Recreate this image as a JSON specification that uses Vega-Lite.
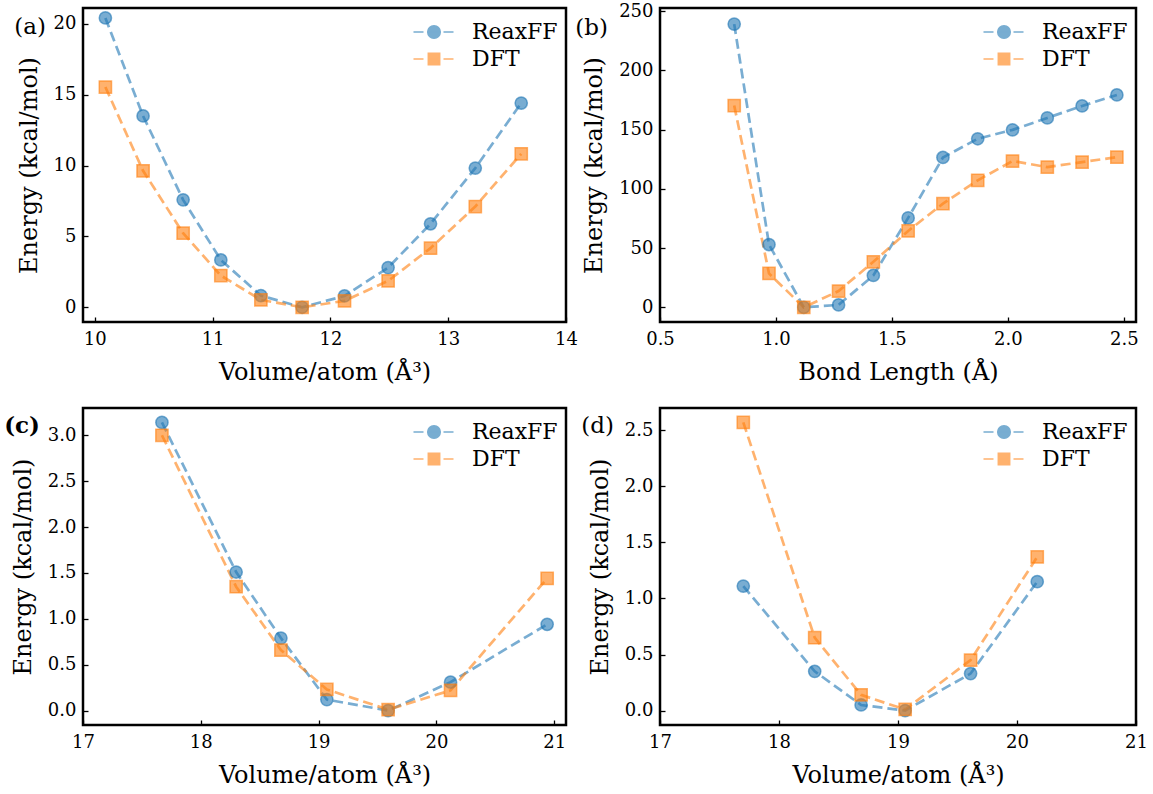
{
 "$schema": "https://vega.github.io/schema/vega-lite/v6.json",
 "padding": {"left": 2, "top": 0, "right": 4, "bottom": 4},
 "background": "white",
 "datasets": {
  "pts": [
   {"p":"a","s":"ReaxFF","x":10.09,"y":20.42},{"p":"a","s":"ReaxFF","x":10.41,"y":13.5},{"p":"a","s":"ReaxFF","x":10.75,"y":7.58},{"p":"a","s":"ReaxFF","x":11.07,"y":3.34},{"p":"a","s":"ReaxFF","x":11.41,"y":0.82},{"p":"a","s":"ReaxFF","x":11.76,"y":0.0},{"p":"a","s":"ReaxFF","x":12.12,"y":0.8},{"p":"a","s":"ReaxFF","x":12.49,"y":2.8},{"p":"a","s":"ReaxFF","x":12.85,"y":5.89},{"p":"a","s":"ReaxFF","x":13.23,"y":9.82},{"p":"a","s":"ReaxFF","x":13.62,"y":14.41},
   {"p":"a","s":"DFT","x":10.09,"y":15.54},{"p":"a","s":"DFT","x":10.41,"y":9.63},{"p":"a","s":"DFT","x":10.75,"y":5.23},{"p":"a","s":"DFT","x":11.07,"y":2.24},{"p":"a","s":"DFT","x":11.41,"y":0.52},{"p":"a","s":"DFT","x":11.76,"y":0.0},{"p":"a","s":"DFT","x":12.12,"y":0.45},{"p":"a","s":"DFT","x":12.49,"y":1.86},{"p":"a","s":"DFT","x":12.85,"y":4.17},{"p":"a","s":"DFT","x":13.23,"y":7.11},{"p":"a","s":"DFT","x":13.62,"y":10.83},
   {"p":"b","s":"ReaxFF","x":0.82,"y":239.1},{"p":"b","s":"ReaxFF","x":0.97,"y":53.0},{"p":"b","s":"ReaxFF","x":1.12,"y":0.0},{"p":"b","s":"ReaxFF","x":1.27,"y":2.0},{"p":"b","s":"ReaxFF","x":1.42,"y":26.9},{"p":"b","s":"ReaxFF","x":1.57,"y":75.5},{"p":"b","s":"ReaxFF","x":1.72,"y":126.5},{"p":"b","s":"ReaxFF","x":1.87,"y":142.3},{"p":"b","s":"ReaxFF","x":2.02,"y":149.8},{"p":"b","s":"ReaxFF","x":2.17,"y":159.9},{"p":"b","s":"ReaxFF","x":2.32,"y":170.0},{"p":"b","s":"ReaxFF","x":2.47,"y":179.3},
   {"p":"b","s":"DFT","x":0.82,"y":170.3},{"p":"b","s":"DFT","x":0.97,"y":28.6},{"p":"b","s":"DFT","x":1.12,"y":0.0},{"p":"b","s":"DFT","x":1.27,"y":13.7},{"p":"b","s":"DFT","x":1.42,"y":38.4},{"p":"b","s":"DFT","x":1.57,"y":64.5},{"p":"b","s":"DFT","x":1.72,"y":87.5},{"p":"b","s":"DFT","x":1.87,"y":107.2},{"p":"b","s":"DFT","x":2.02,"y":123.5},{"p":"b","s":"DFT","x":2.17,"y":118.4},{"p":"b","s":"DFT","x":2.32,"y":122.6},{"p":"b","s":"DFT","x":2.47,"y":126.8},
   {"p":"c","s":"ReaxFF","x":17.67,"y":3.14},{"p":"c","s":"ReaxFF","x":18.30,"y":1.51},{"p":"c","s":"ReaxFF","x":18.68,"y":0.79},{"p":"c","s":"ReaxFF","x":19.07,"y":0.12},{"p":"c","s":"ReaxFF","x":19.59,"y":0.0},{"p":"c","s":"ReaxFF","x":20.12,"y":0.31},{"p":"c","s":"ReaxFF","x":20.94,"y":0.94},
   {"p":"c","s":"DFT","x":17.67,"y":3.0},{"p":"c","s":"DFT","x":18.30,"y":1.35},{"p":"c","s":"DFT","x":18.68,"y":0.66},{"p":"c","s":"DFT","x":19.07,"y":0.23},{"p":"c","s":"DFT","x":19.59,"y":0.01},{"p":"c","s":"DFT","x":20.12,"y":0.22},{"p":"c","s":"DFT","x":20.94,"y":1.44},
   {"p":"d","s":"ReaxFF","x":17.70,"y":1.11},{"p":"d","s":"ReaxFF","x":18.30,"y":0.35},{"p":"d","s":"ReaxFF","x":18.69,"y":0.05},{"p":"d","s":"ReaxFF","x":19.06,"y":0.0},{"p":"d","s":"ReaxFF","x":19.61,"y":0.33},{"p":"d","s":"ReaxFF","x":20.17,"y":1.15},
   {"p":"d","s":"DFT","x":17.70,"y":2.57},{"p":"d","s":"DFT","x":18.30,"y":0.65},{"p":"d","s":"DFT","x":18.69,"y":0.14},{"p":"d","s":"DFT","x":19.06,"y":0.01},{"p":"d","s":"DFT","x":19.61,"y":0.45},{"p":"d","s":"DFT","x":20.17,"y":1.37}
  ]
 },
 "data": {"name": "pts"},
 "spacing": -5,
 "align": "none",
 "resolve": {"scale": {"x": "independent", "y": "independent", "color": "independent"}, "axis": {"x": "independent", "y": "independent"}, "legend": {"color": "independent"}},
 "hconcat": [
  {
   "spacing": 20,
   "resolve": {"scale": {"x": "independent", "y": "independent", "color": "independent"}, "axis": {"x": "independent", "y": "independent"}, "legend": {"color": "independent"}},
   "vconcat": [
    {
     "width": 483, "height": 314,
     "layer": [
      {"transform": [{"filter": "datum.p === 'a'"}],
       "mark": {"type": "line", "strokeDash": [10, 5], "strokeWidth": 2.7, "opacity": 0.6},
       "encoding": {
        "x": {"field": "x", "type": "quantitative", "scale": {"domain": [9.9, 14.0], "nice": false, "zero": false}, "axis": {"values": [10, 11, 12, 13, 14], "format": "d", "title": "Volume/atom (Å³)"}},
        "y": {"field": "y", "type": "quantitative", "scale": {"domain": [-1.04, 21.12], "nice": false, "zero": false}, "axis": {"values": [0, 5, 10, 15, 20], "format": "d", "title": "Energy (kcal/mol)"}},
        "color": {"field": "s", "type": "nominal", "scale": {"domain": ["ReaxFF", "DFT"], "range": ["#1f77b4", "#ff7f0e"]},
         "legend": {"orient": "top-right", "offset": 0, "padding": 8, "title": null, "labelFont": "DejaVu Serif", "labelFontSize": 22, "labelColor": "black", "symbolSize": 900, "labelOffset": 22, "rowPadding": 0,
          "symbolType": {"expr": "datum.value === 'ReaxFF' ? 'M-1.367,0H-0.7M-0.367,0H0.3M0.633,0H1.3M-0.42,0A0.42,0.42,0,1,0,0.42,0A0.42,0.42,0,1,0,-0.42,0Z' : 'M-1.367,0H-0.7M-0.367,0H0.3M0.633,0H1.3M-0.38,-0.38H0.38V0.38H-0.38Z'"},
          "encode": {"symbols": {
           "fillOpacity": {"value": 0.6}, "strokeOpacity": {"value": 0.6}, "opacity": {"value": 1}, "strokeWidth": {"value": 2.2}, "strokeDash": {"value": []}}}}}
       }},
      {"transform": [{"filter": "datum.p === 'a'"}],
       "mark": {"type": "point", "filled": true, "size": 150, "fillOpacity": 0.6, "strokeOpacity": 0.6, "strokeWidth": 1.5, "opacity": 1,
        "shape": {"expr": "datum.s === 'ReaxFF' ? 'circle' : 'square'"},
        "stroke": {"expr": "datum.s === 'ReaxFF' ? '#1f77b4' : '#ff7f0e'"}},
       "encoding": {
        "x": {"field": "x", "type": "quantitative"},
        "y": {"field": "y", "type": "quantitative"},
        "color": {"field": "s", "type": "nominal"}
       }},
      {"data": {"values": [{}]},
       "mark": {"type": "text", "align": "right", "baseline": "middle", "dx": -37, "dy": 19, "fontSize": 23, "font": "DejaVu Serif", "color": "black"},
       "encoding": {"x": {"datum": 9.9}, "y": {"datum": 21.12}, "text": {"value": "(a)"}}}
     ]
    },
    {
     "width": 483, "height": 317,
     "layer": [
      {"transform": [{"filter": "datum.p === 'c'"}],
       "mark": {"type": "line", "strokeDash": [10, 5], "strokeWidth": 2.7, "opacity": 0.6},
       "encoding": {
        "x": {"field": "x", "type": "quantitative", "scale": {"domain": [17, 21.1], "nice": false, "zero": false}, "axis": {"values": [17, 18, 19, 20, 21], "format": "d", "title": "Volume/atom (Å³)"}},
        "y": {"field": "y", "type": "quantitative", "scale": {"domain": [-0.157, 3.297], "nice": false, "zero": false}, "axis": {"values": [0, 0.5, 1, 1.5, 2, 2.5, 3], "format": ".1f", "title": "Energy (kcal/mol)"}},
        "color": {"field": "s", "type": "nominal", "scale": {"domain": ["ReaxFF", "DFT"], "range": ["#1f77b4", "#ff7f0e"]},
         "legend": {"orient": "top-right", "offset": 0, "padding": 8, "title": null, "labelFont": "DejaVu Serif", "labelFontSize": 22, "labelColor": "black", "symbolSize": 900, "labelOffset": 22, "rowPadding": 0,
          "symbolType": {"expr": "datum.value === 'ReaxFF' ? 'M-1.367,0H-0.7M-0.367,0H0.3M0.633,0H1.3M-0.42,0A0.42,0.42,0,1,0,0.42,0A0.42,0.42,0,1,0,-0.42,0Z' : 'M-1.367,0H-0.7M-0.367,0H0.3M0.633,0H1.3M-0.38,-0.38H0.38V0.38H-0.38Z'"},
          "encode": {"symbols": {
           "fillOpacity": {"value": 0.6}, "strokeOpacity": {"value": 0.6}, "opacity": {"value": 1}, "strokeWidth": {"value": 2.2}, "strokeDash": {"value": []}}}}}
       }},
      {"transform": [{"filter": "datum.p === 'c'"}],
       "mark": {"type": "point", "filled": true, "size": 150, "fillOpacity": 0.6, "strokeOpacity": 0.6, "strokeWidth": 1.5, "opacity": 1,
        "shape": {"expr": "datum.s === 'ReaxFF' ? 'circle' : 'square'"},
        "stroke": {"expr": "datum.s === 'ReaxFF' ? '#1f77b4' : '#ff7f0e'"}},
       "encoding": {
        "x": {"field": "x", "type": "quantitative"},
        "y": {"field": "y", "type": "quantitative"},
        "color": {"field": "s", "type": "nominal"}
       }},
      {"data": {"values": [{}]},
       "mark": {"type": "text", "align": "right", "baseline": "middle", "dx": -43, "dy": 18, "fontSize": 23, "fontWeight": "bold", "font": "DejaVu Serif", "color": "black"},
       "encoding": {"x": {"datum": 17}, "y": {"datum": 3.297}, "text": {"value": "(c)"}}}
     ]
    }
   ]
  },
  {
   "spacing": 20,
   "resolve": {"scale": {"x": "independent", "y": "independent", "color": "independent"}, "axis": {"x": "independent", "y": "independent"}, "legend": {"color": "independent"}},
   "vconcat": [
    {
     "width": 476, "height": 314,
     "layer": [
      {"transform": [{"filter": "datum.p === 'b'"}],
       "mark": {"type": "line", "strokeDash": [10, 5], "strokeWidth": 2.7, "opacity": 0.6},
       "encoding": {
        "x": {"field": "x", "type": "quantitative", "scale": {"domain": [0.5, 2.5525], "nice": false, "zero": false}, "axis": {"values": [0.5, 1.0, 1.5, 2.0, 2.5], "format": ".1f", "title": "Bond Length (Å)"}},
        "y": {"field": "y", "type": "quantitative", "scale": {"domain": [-12.4, 252.7], "nice": false, "zero": false}, "axis": {"values": [0, 50, 100, 150, 200, 250], "format": "d", "title": "Energy (kcal/mol)"}},
        "color": {"field": "s", "type": "nominal", "scale": {"domain": ["ReaxFF", "DFT"], "range": ["#1f77b4", "#ff7f0e"]},
         "legend": {"orient": "top-right", "offset": 0, "padding": 8, "title": null, "labelFont": "DejaVu Serif", "labelFontSize": 22, "labelColor": "black", "symbolSize": 900, "labelOffset": 22, "rowPadding": 0,
          "symbolType": {"expr": "datum.value === 'ReaxFF' ? 'M-1.367,0H-0.7M-0.367,0H0.3M0.633,0H1.3M-0.42,0A0.42,0.42,0,1,0,0.42,0A0.42,0.42,0,1,0,-0.42,0Z' : 'M-1.367,0H-0.7M-0.367,0H0.3M0.633,0H1.3M-0.38,-0.38H0.38V0.38H-0.38Z'"},
          "encode": {"symbols": {
           "fillOpacity": {"value": 0.6}, "strokeOpacity": {"value": 0.6}, "opacity": {"value": 1}, "strokeWidth": {"value": 2.2}, "strokeDash": {"value": []}}}}}
       }},
      {"transform": [{"filter": "datum.p === 'b'"}],
       "mark": {"type": "point", "filled": true, "size": 150, "fillOpacity": 0.6, "strokeOpacity": 0.6, "strokeWidth": 1.5, "opacity": 1,
        "shape": {"expr": "datum.s === 'ReaxFF' ? 'circle' : 'square'"},
        "stroke": {"expr": "datum.s === 'ReaxFF' ? '#1f77b4' : '#ff7f0e'"}},
       "encoding": {
        "x": {"field": "x", "type": "quantitative"},
        "y": {"field": "y", "type": "quantitative"},
        "color": {"field": "s", "type": "nominal"}
       }},
      {"data": {"values": [{}]},
       "mark": {"type": "text", "align": "right", "baseline": "middle", "dx": -52, "dy": 20, "fontSize": 23, "font": "DejaVu Serif", "color": "black"},
       "encoding": {"x": {"datum": 0.5}, "y": {"datum": 252.7}, "text": {"value": "(b)"}}}
     ]
    },
    {
     "width": 476, "height": 317,
     "layer": [
      {"transform": [{"filter": "datum.p === 'd'"}],
       "mark": {"type": "line", "strokeDash": [10, 5], "strokeWidth": 2.7, "opacity": 0.6},
       "encoding": {
        "x": {"field": "x", "type": "quantitative", "scale": {"domain": [17, 21], "nice": false, "zero": false}, "axis": {"values": [17, 18, 19, 20, 21], "format": "d", "title": "Volume/atom (Å³)"}},
        "y": {"field": "y", "type": "quantitative", "scale": {"domain": [-0.1285, 2.6985], "nice": false, "zero": false}, "axis": {"values": [0, 0.5, 1, 1.5, 2, 2.5], "format": ".1f", "title": "Energy (kcal/mol)"}},
        "color": {"field": "s", "type": "nominal", "scale": {"domain": ["ReaxFF", "DFT"], "range": ["#1f77b4", "#ff7f0e"]},
         "legend": {"orient": "top-right", "offset": 0, "padding": 8, "title": null, "labelFont": "DejaVu Serif", "labelFontSize": 22, "labelColor": "black", "symbolSize": 900, "labelOffset": 22, "rowPadding": 0,
          "symbolType": {"expr": "datum.value === 'ReaxFF' ? 'M-1.367,0H-0.7M-0.367,0H0.3M0.633,0H1.3M-0.42,0A0.42,0.42,0,1,0,0.42,0A0.42,0.42,0,1,0,-0.42,0Z' : 'M-1.367,0H-0.7M-0.367,0H0.3M0.633,0H1.3M-0.38,-0.38H0.38V0.38H-0.38Z'"},
          "encode": {"symbols": {
           "fillOpacity": {"value": 0.6}, "strokeOpacity": {"value": 0.6}, "opacity": {"value": 1}, "strokeWidth": {"value": 2.2}, "strokeDash": {"value": []}}}}}
       }},
      {"transform": [{"filter": "datum.p === 'd'"}],
       "mark": {"type": "point", "filled": true, "size": 150, "fillOpacity": 0.6, "strokeOpacity": 0.6, "strokeWidth": 1.5, "opacity": 1,
        "shape": {"expr": "datum.s === 'ReaxFF' ? 'circle' : 'square'"},
        "stroke": {"expr": "datum.s === 'ReaxFF' ? '#1f77b4' : '#ff7f0e'"}},
       "encoding": {
        "x": {"field": "x", "type": "quantitative"},
        "y": {"field": "y", "type": "quantitative"},
        "color": {"field": "s", "type": "nominal"}
       }},
      {"data": {"values": [{}]},
       "mark": {"type": "text", "align": "right", "baseline": "middle", "dx": -46, "dy": 18, "fontSize": 23, "font": "DejaVu Serif", "color": "black"},
       "encoding": {"x": {"datum": 17}, "y": {"datum": 2.6985}, "text": {"value": "(d)"}}}
     ]
    }
   ]
  }
 ],
 "config": {
  "font": "DejaVu Serif",
  "view": {"stroke": "black", "strokeWidth": 2.5},
  "axis": {"domain": false, "grid": false, "labelFont": "DejaVu Serif", "labelFontSize": 18, "labelColor": "black", "titleFont": "DejaVu Serif", "titleFontSize": 24, "titleFontWeight": "normal", "titleColor": "black", "tickColor": "black", "tickSize": -5, "tickWidth": 1.3, "labelPadding": 12, "labelFlush": false, "labelOverlap": false},
  "axisX": {"titlePadding": 12, "labelPadding": 13},
  "axisY": {"titlePadding": 12}
 }
}
